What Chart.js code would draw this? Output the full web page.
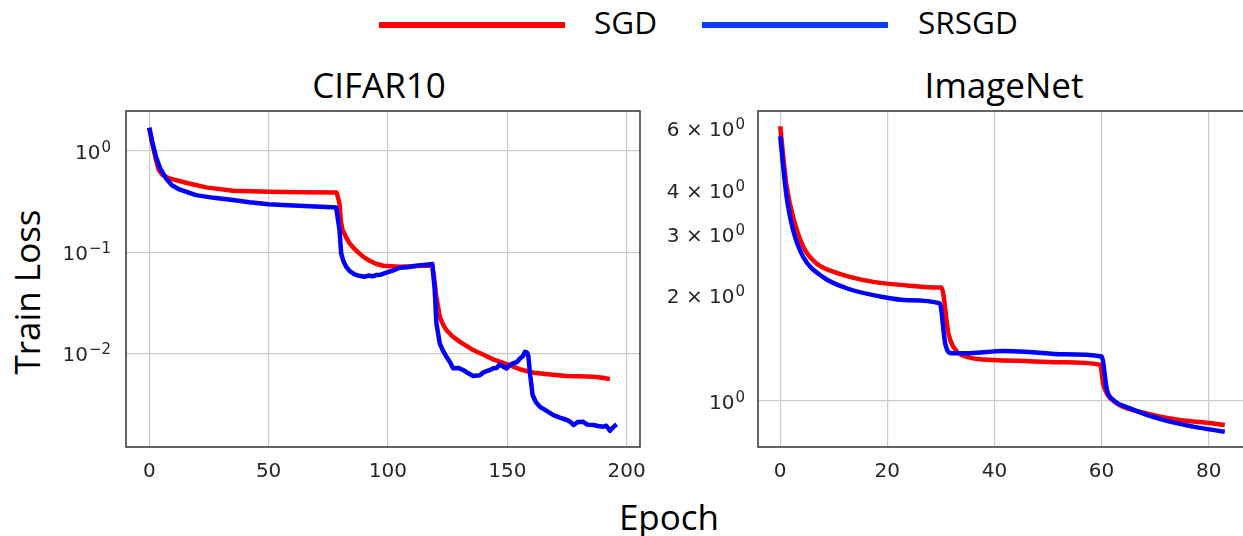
<!DOCTYPE html>
<html>
<head>
<meta charset="utf-8">
<script src="https://cdn.jsdelivr.net/npm/chart.js@4"></script>
<style>
  body { margin: 0; width: 1243px; height: 536px; overflow: hidden; position: relative; background: #fff; }
  canvas { position: absolute; top: 0; }
  .txt { position: absolute; font-family: "Open Sans", sans-serif; line-height: 1; white-space: nowrap; color: #000; }
  .leg-line { position: absolute; height: 6px; }
</style>
</head>
<body>
<div class="leg-line" style="left:379px;top:22px;width:186px;background:#ff0000"></div>
<div class="txt" style="left:594px;top:6px;font-size:31.5px">SGD</div>
<div class="leg-line" style="left:702px;top:22px;width:186px;background:#0a3cff"></div>
<div class="txt" style="left:918px;top:6px;font-size:31.5px">SRSGD</div>

<div class="txt" style="left:379px;top:67px;font-size:35px;transform:translateX(-50%)">CIFAR10</div>
<div class="txt" style="left:1004px;top:67px;font-size:35px;transform:translateX(-50%)">ImageNet</div>
<div class="txt" style="left:669px;top:499px;font-size:35px;transform:translateX(-50%)">Epoch</div>
<div class="txt" style="left:26px;top:292px;font-size:35px;transform:translate(-50%,-50%) rotate(-90deg)">Train Loss</div>

<canvas id="cifar" width="648" height="536" style="left:0"></canvas>
<canvas id="imagenet" width="610" height="536" style="left:645px"></canvas>

<script>
// CIFAR10 curves (epoch, train loss)
const cifarEpochSGD = [0, 1.2, 2.8, 4, 5.6, 8.4, 15.4, 23.8, 35, 50, 65, 78.5, 79.7, 80.3, 81, 82.5, 84, 86, 88, 90, 92.3, 95, 98, 105, 112, 118.5, 119.3, 120.3, 121.7, 123, 124.5, 127, 130, 135.7, 140, 144, 148, 152.5, 156, 161, 168, 175, 180, 186, 190, 193];
const cifarLossSGD = [1.70, 1.2, 0.82, 0.65, 0.58, 0.537, 0.486, 0.438, 0.405, 0.396, 0.392, 0.39, 0.304, 0.2, 0.166, 0.14, 0.122, 0.108, 0.0975, 0.089, 0.0824, 0.077, 0.0736, 0.0719, 0.073, 0.0742, 0.0573, 0.0363, 0.0231, 0.0195, 0.017, 0.0148, 0.0131, 0.0108, 0.0097, 0.00875, 0.0081, 0.0074, 0.0069, 0.00645, 0.0062, 0.006, 0.00595, 0.0059, 0.00575, 0.00558];

const cifarEpochSRSGD = [0, 1.2, 2.8, 4.5, 7, 9.5, 12.6, 19.6, 27, 35, 42, 50, 58, 65, 72, 78.3, 79.7, 80.4, 81.3, 82.5, 84, 86, 88, 90.2, 92, 93.5, 95, 97, 99.3, 102, 105, 108, 112, 115, 118.6, 119.6, 120.3, 121.7, 123, 124.5, 126, 127.3, 129.5, 131.5, 133.5, 135.7, 138.5, 140, 141.3, 143, 144, 145.5, 146.9, 148.3, 149.7, 151, 152.5, 154, 155.3, 156.5, 157.4, 158.3, 158.8, 159.5, 160.6, 162, 163.7, 166, 169.3, 172, 175, 176.5, 177.7, 179.5, 181.8, 183.5, 186, 188, 190.2, 191.5, 193, 194.5, 195.8];
const cifarLossSRSGD = [1.70, 1.25, 0.879, 0.68, 0.537, 0.46, 0.418, 0.367, 0.345, 0.328, 0.312, 0.299, 0.292, 0.287, 0.282, 0.277, 0.166, 0.0975, 0.082, 0.0719, 0.065, 0.0604, 0.0585, 0.0573, 0.059, 0.0578, 0.0595, 0.06, 0.0628, 0.066, 0.0703, 0.0712, 0.0736, 0.0748, 0.0764, 0.0423, 0.0198, 0.0126, 0.0107, 0.00927, 0.0082, 0.00713, 0.0072, 0.00686, 0.0064, 0.00598, 0.0061, 0.0065, 0.0067, 0.0069, 0.00713, 0.0072, 0.0078, 0.0074, 0.0071, 0.0077, 0.008, 0.0082, 0.0089, 0.0094, 0.0104, 0.0102, 0.0095, 0.00636, 0.00388, 0.0033, 0.00297, 0.00275, 0.00246, 0.00232, 0.0022, 0.0021, 0.00196, 0.0021, 0.00211, 0.00198, 0.00196, 0.00192, 0.00189, 0.00193, 0.00172, 0.00188, 0.002];

// ImageNet curves
const imgEpochSGD = [0, 0.56, 1.2, 2.4, 4.3, 6.8, 11.1, 17.4, 23.6, 29.8, 30.1, 31.4, 32.3, 35.4, 39.8, 46.6, 52.8, 59.7, 60.3, 61, 62.8, 68.4, 74.6, 79.6, 83];
const imgLossSGD = [6.1, 4.99, 4.1, 3.36, 2.76, 2.47, 2.31, 2.19, 2.14, 2.11, 2.11, 1.56, 1.43, 1.33, 1.31, 1.30, 1.29, 1.27, 1.12, 1.05, 0.985, 0.922, 0.883, 0.867, 0.854];

const imgEpochSRSGD = [0, 0.56, 1.2, 2.4, 4.3, 8, 12.4, 18.6, 24, 29.8, 30.8, 32, 35.4, 41.6, 46.6, 52.8, 60, 61, 62.2, 65.3, 71.5, 77.1, 83];
const imgLossSRSGD = [5.71, 4.67, 3.83, 3.08, 2.58, 2.26, 2.10, 1.99, 1.94, 1.90, 1.46, 1.37, 1.37, 1.39, 1.38, 1.36, 1.34, 1.075, 1.007, 0.953, 0.883, 0.845, 0.817];

// ticks and their labels (mantissa text + superscript exponent)
const cifarXTicks = [0, 50, 100, 150, 200];
const cifarYTicks = [0.01, 0.1, 1];
const cifarYBase = ['10', '10', '10'];
const cifarYExp = ['\u22122', '\u22121', '0'];
const imgXTicks = [0, 20, 40, 60, 80];
const imgYTicks = [1, 2, 3, 4, 6];
const imgYBase = ['10', '2 \u00D7 10', '3 \u00D7 10', '4 \u00D7 10', '6 \u00D7 10'];
const imgYExp = ['0', '0', '0', '0', '0'];

const toPoints = (xs, ys) => xs.map((x, i) => ({ x: x, y: ys[i] }));

// box around the plot area, like matplotlib spines
const frame = {
  id: 'frame',
  afterDatasetsDraw(chart) {
    const a = chart.chartArea;
    const ctx = chart.ctx;
    ctx.save();
    ctx.strokeStyle = '#333333';
    ctx.lineWidth = 1.5;
    ctx.strokeRect(a.left, a.top, a.right - a.left, a.bottom - a.top);
    ctx.restore();
  }
};

// y tick labels written as 10 with a raised exponent
const powerLabels = {
  id: 'powerLabels',
  afterDraw(chart, args, opts) {
    const ctx = chart.ctx;
    const y = chart.scales.y;
    const right = chart.chartArea.left - opts.gap;
    ctx.save();
    ctx.fillStyle = '#262626';
    ctx.textBaseline = 'alphabetic';
    ctx.textAlign = 'left';
    opts.values.forEach((v, i) => {
      const py = y.getPixelForValue(v);
      ctx.font = '15px "DejaVu Sans"';
      const wExp = ctx.measureText(opts.exps[i]).width;
      ctx.font = '20px "DejaVu Sans"';
      const wBase = ctx.measureText(opts.bases[i]).width;
      const x0 = right - wExp - wBase - 1;
      ctx.fillText(opts.bases[i], x0, py + 7.5);
      ctx.font = '15px "DejaVu Sans"';
      ctx.fillText(opts.exps[i], x0 + wBase + 1, py + 0.5);
    });
    ctx.restore();
  }
};

function makeChart(id, cfg) {
  const tickFont = { family: 'DejaVu Sans', size: 20 };
  return new Chart(document.getElementById(id), {
    type: 'line',
    data: {
      datasets: [
        {
          label: 'SRSGD',
          data: toPoints(cfg.srsgdX, cfg.srsgdY),
          borderColor: '#0000ff',
          borderWidth: 4.5
        },
        {
          label: 'SGD',
          data: toPoints(cfg.sgdX, cfg.sgdY),
          borderColor: '#ff0000',
          borderWidth: 4.5
        }
      ]
    },
    options: {
      responsive: false,
      animation: false,
      devicePixelRatio: 1,
      elements: {
        point: { radius: 0 },
        line: { cubicInterpolationMode: cfg.smooth ? 'monotone' : 'default', tension: 0, borderJoinStyle: 'round' }
      },
      layout: { padding: { top: 111, right: 8, bottom: 0, left: 0 } },
      plugins: {
        legend: { display: false },
        tooltip: { enabled: false },
        powerLabels: { values: cfg.yTicks, bases: cfg.yBase, exps: cfg.yExp, gap: cfg.labelGap }
      },
      scales: {
        x: {
          type: 'linear',
          min: cfg.xMin,
          max: cfg.xMax,
          afterBuildTicks: s => { s.ticks = cfg.xTicks.map(v => ({ value: v })); },
          afterFit: s => { s.height = 89; s.paddingLeft = 0; s.paddingRight = 0; },
          grid: { color: '#cccccc', lineWidth: 1.2, drawTicks: false },
          border: { display: false },
          ticks: { font: tickFont, color: '#262626', padding: 13, maxRotation: 0 }
        },
        y: {
          type: 'logarithmic',
          bounds: 'data',
          min: cfg.yMin,
          max: cfg.yMax,
          afterBuildTicks: s => {
            s.ticks = cfg.yTicks.map(v => ({ value: v }));
            s.min = cfg.yMin;
            s.max = cfg.yMax;
          },
          afterFit: s => { s.width = cfg.yWidth; s.paddingTop = 0; s.paddingBottom = 0; },
          grid: {
            color: c => (cfg.gridAt.includes(c.tick.value) ? '#cccccc' : 'rgba(0,0,0,0)'),
            lineWidth: 1.2,
            drawTicks: false
          },
          border: { display: false },
          ticks: { display: false }
        }
      }
    },
    plugins: [frame, powerLabels]
  });
}

makeChart('cifar', {
  sgdX: cifarEpochSGD, sgdY: cifarLossSGD,
  srsgdX: cifarEpochSRSGD, srsgdY: cifarLossSRSGD,
  smooth: false,
  xMin: -9.75, xMax: 205.6, xTicks: cifarXTicks,
  yMin: 0.00119, yMax: 2.49, yTicks: cifarYTicks, yBase: cifarYBase, yExp: cifarYExp, gridAt: cifarYTicks,
  yWidth: 126, labelGap: 15
});

makeChart('imagenet', {
  sgdX: imgEpochSGD, sgdY: imgLossSGD,
  srsgdX: imgEpochSRSGD, srsgdY: imgLossSRSGD,
  smooth: true,
  xMin: -4.15, xMax: 87.15, xTicks: imgXTicks,
  yMin: 0.739, yMax: 6.74, yTicks: imgYTicks, yBase: imgYBase, yExp: imgYExp, gridAt: [1],
  yWidth: 113, labelGap: 13
});
</script>
</body>
</html>
